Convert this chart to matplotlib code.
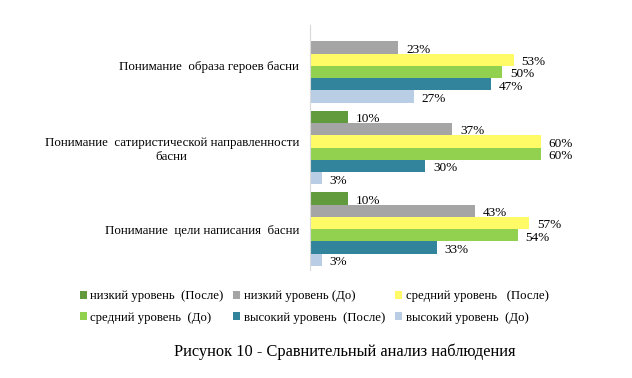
import numpy as np
import matplotlib.pyplot as plt

plt.rcParams['font.family'] = ['Liberation Serif', 'DejaVu Serif']

categories = [
    "Понимание  образа героев басни",
    "Понимание  сатиристической направленности\nбасни",
    "Понимание  цели написания  басни",
]
series = [
    "низкий уровень  (После)",
    "низкий уровень (До)",
    "средний уровень   (После)",
    "средний уровень  (До)",
    "высокий уровень  (После)",
    "высокий уровень  (До)",
]
low_after = [0, 10, 10]
low_before = [23, 37, 43]
mid_after = [53, 60, 57]
mid_before = [50, 60, 54]
high_after = [47, 30, 33]
high_before = [27, 3, 3]
values = [low_after, low_before, mid_after, mid_before, high_after, high_before]
colors = ["#629a3e", "#a5a5a5", "#fffb66", "#92d050", "#31849b", "#b9cde5"]

fig = plt.figure(figsize=(6.32, 3.78), dpi=100)
ax = fig.add_axes([310 / 632, 1 - 270 / 378, 250 / 632, 245 / 378])

y = np.arange(len(categories))
h = 0.151
handles = []
for j, (vals, col, name) in enumerate(zip(values, colors, series)):
    pos = y + (j - 2.5) * h
    b = ax.barh(pos, vals, height=h, color=col, label=name)
    handles.append(b)
    for p, v in zip(pos, vals):
        if v > 0:
            ax.text(v + 2.0, p + 0.03, f"{v}%", va="center", ha="left",
                    fontsize=9.5, clip_on=False)

ax.set_ylim(2.5, -0.5)
ax.set_xlim(0, 65)
ax.set_yticks(y)
ax.set_yticklabels(categories, fontsize=9.3, ha="right", multialignment="center")
ax.tick_params(axis="y", length=0, pad=8)
ax.set_xticks([])
for s in ["top", "right", "bottom"]:
    ax.spines[s].set_visible(False)
ax.spines["left"].set_color("#d9d9d9")

order = [0, 3, 1, 4, 2, 5]
fig.legend([handles[i] for i in order], [series[i] for i in order],
           ncol=3, loc="center", bbox_to_anchor=(0.497, 1 - 307 / 378),
           frameon=False, fontsize=9.2, handlelength=0.55, handleheight=0.55,
           handletextpad=0.3, columnspacing=0.75, labelspacing=0.75)

fig.text(0.546, 1 - 352 / 378, "Рисунок 10 - Сравнительный анализ наблюдения",
         ha="center", va="center", fontsize=11.8)

fig.savefig("out.png", dpi=100)
